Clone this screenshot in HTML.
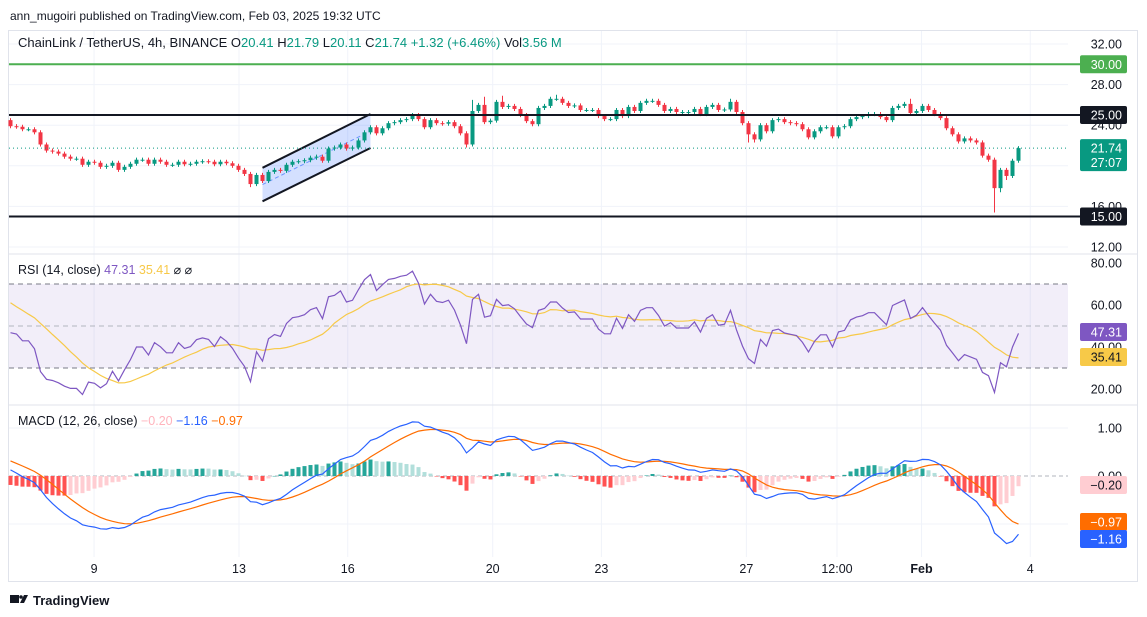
<!DOCTYPE html>
<html><head><meta charset="utf-8">
<style>
html,body{margin:0;padding:0;background:#fff;}
svg{display:block;font-family:"Liberation Sans",sans-serif;}
</style></head>
<body>
<svg id="c" width="1147" height="617" viewBox="0 0 1147 617">
<text x="10" y="20" font-size="12" fill="#131722">ann_mugoiri published on TradingView.com, Feb 03, 2025 19:32 UTC</text>
<rect x="8.5" y="30.5" width="1129" height="551" fill="none" stroke="#e0e3eb"/>
<g id="grid"></g>
<g id="main"></g>
<g id="rsi"></g>
<g id="macd"></g>
<g id="axis"></g>
<text x="18" y="47" font-size="13" fill="#131722">ChainLink / TetherUS, 4h, BINANCE <tspan fill="#131722">O</tspan><tspan fill="#089981">20.41 </tspan><tspan fill="#131722">H</tspan><tspan fill="#089981">21.79 </tspan><tspan fill="#131722">L</tspan><tspan fill="#089981">20.11 </tspan><tspan fill="#131722">C</tspan><tspan fill="#089981">21.74 +1.32 (+6.46%) </tspan><tspan fill="#131722">Vol</tspan><tspan fill="#089981">3.56 M</tspan></text>
<text x="18" y="274" font-size="12.5" fill="#131722">RSI (14, close) <tspan fill="#7e57c2">47.31</tspan> <tspan fill="#f7c948">35.41</tspan> ⌀ ⌀</text>
<text x="18" y="425" font-size="12.5" fill="#131722">MACD (12, 26, close) <tspan fill="#ffb3bd">−0.20</tspan> <tspan fill="#2962ff">−1.16</tspan> <tspan fill="#ff6d00">−0.97</tspan></text>
<g>
<rect x="10" y="595" width="9" height="8" fill="#131722"/>
<path d="M20 603 L24 595 L28 595 L24 603 Z" fill="#131722"/>
<circle cx="21" cy="597" r="1.8" fill="#131722"/>
<text x="33" y="605" font-size="13" font-weight="bold" fill="#131722">TradingView</text>
</g>
</svg>
<script>
const preCloses=[22.0,22.3,22.8,23.0,23.5,23.4,23.9,24.2,24.0,24.6,24.9,24.7,25.2,25.0,25.4,25.1,25.5,25.2,25.4,25.0,25.3,24.9,25.1,24.8,25.0,24.7,24.8,24.6,24.7,24.8,24.5,24.6];
const firstOpen=24.5;
const closes=[23.9,23.85,23.6,23.6,23.3,22.1,21.5,21.4,21.2,20.9,20.7,20.7,20.1,20.4,20.3,19.9,20.0,20.3,19.6,19.9,
20.2,20.6,20.6,20.2,20.6,20.4,20.1,20.1,20.4,20.15,20.2,20.4,20.45,20.4,20.15,20.4,20.25,20.0,19.6,19.2,
18.2,19.1,18.5,19.4,19.6,19.5,20.1,20.4,20.45,20.55,20.8,20.9,20.5,21.7,21.8,22.1,21.7,21.8,22.5,23.3,
23.8,23.2,23.7,24.2,24.3,24.5,24.6,25.0,24.6,23.8,24.5,24.2,24.15,24.3,23.9,23.2,22.1,25.4,26.0,24.3,
24.45,26.3,25.8,25.9,25.6,25.0,24.4,24.1,25.7,25.9,26.6,26.6,26.2,25.9,25.95,25.5,25.5,25.5,24.9,24.6,
24.6,25.5,24.9,25.8,25.4,26.2,26.4,26.4,26.0,25.4,25.6,25.3,25.3,25.3,25.6,25.1,25.8,26.0,25.5,25.55,
26.3,25.3,24.2,23.1,22.6,24.0,23.4,24.5,24.6,24.3,24.2,24.1,23.6,22.8,23.4,23.8,23.8,22.9,23.8,23.9,
24.6,24.8,24.9,25.1,25.1,24.8,24.5,25.7,25.9,26.1,25.2,25.4,25.9,25.5,25.1,24.7,23.7,23.1,22.4,22.7,
22.5,22.3,21.0,20.6,17.8,19.6,19.0,20.5,21.74];
const lowOverrides={40:17.9,76:21.8,164:15.4,165:17.4,166:18.6,123:22.3,124:22.3};
const highOverrides={77:26.5,79:26.8,82:26.9,120:26.6,150:26.6,91:27.0};
const wickPad=0.2;
const priceTicks=[32,28,24,16,12];
const rsiTicks=[80,60,40,20];
const macdTicks=[1.00,0.00];
const dayLabels=["9","13","16","20","23","27","12:00","Feb","4"];
const dayIndex=[13.8,37.8,55.8,79.8,97.8,121.8,136.8,150.8,168.8];
const hLevels=[30,25,15];
const hColors=["#4caf50","#131722","#131722"];
const channelIdx=[42,60];
const channelLower=[16.5,21.75];
const channelUpper=[19.8,25.1];

const NS="http://www.w3.org/2000/svg";
function el(tag,attrs,parent,txt){const e=document.createElementNS(NS,tag);for(const k in attrs)e.setAttribute(k,attrs[k]);if(txt!==undefined)e.textContent=txt;parent.appendChild(e);return e;}
const X=i=>10.5+i*6.0;
const XT=i=>10.7+i*6.04;
const PY=p=>44+(32-p)*10.15;
const RY=v=>284+(70-v)*2.1;
const MY=v=>476-v*48;
const PLOT_R=1068;
const grid=document.getElementById('grid'),main=document.getElementById('main'),rsiG=document.getElementById('rsi'),macdG=document.getElementById('macd'),axis=document.getElementById('axis');

dayLabels.forEach((t,k)=>{
  const x=XT(dayIndex[k]);
  const g=el('line',{x1:x,x2:x,y1:31,y2:557,stroke:'#f0f3fa'},grid);
  
  
  const tx=el('text',{x:x,y:573,'font-size':12.5,'text-anchor':'middle',fill:'#131722','font-weight':t==='Feb'?'bold':'normal'},axis,t);
  
  
});
[254,405].forEach(y=>{const s=el('line',{x1:9,x2:1137,y1:y,y2:y,stroke:'#e0e3eb'},grid);

});
priceTicks.concat([20]).forEach(p=>{const l=el('line',{x1:9,x2:PLOT_R,y1:PY(p),y2:PY(p),stroke:'#f0f3fa'},grid);

});
priceTicks.forEach(p=>{const t=el('text',{x:1122,y:PY(p)+4.5,'font-size':12.5,'text-anchor':'end',fill:'#131722'},axis,p.toFixed(2));

});

const cp=`${X(channelIdx[0])},${PY(channelLower[0])} ${X(channelIdx[1])},${PY(channelLower[1])} ${X(channelIdx[1])},${PY(channelUpper[1])} ${X(channelIdx[0])},${PY(channelUpper[0])}`;
const ch=el('polygon',{points:cp,fill:'rgba(41,98,255,0.2)'},main);


[channelLower,channelUpper].forEach(a=>{const l=el('line',{x1:X(channelIdx[0]),y1:PY(a[0]),x2:X(channelIdx[1]),y2:PY(a[1]),stroke:'#131722','stroke-width':2},main);

});
const mid=el('line',{x1:X(channelIdx[0]),y1:PY((channelLower[0]+channelUpper[0])/2),x2:X(channelIdx[1]),y2:PY((channelLower[1]+channelUpper[1])/2),stroke:'#2962ff','stroke-width':1,'stroke-dasharray':'4 3',opacity:0.6},main);



closes.forEach((c,i)=>{
  const o=i===0?firstOpen:closes[i-1];
  const up=c>=o;const col=up?'#089981':'#f23645';
  const hi=highOverrides[i]!==undefined?highOverrides[i]:Math.max(o,c)+wickPad;
  const lo=lowOverrides[i]!==undefined?lowOverrides[i]:Math.min(o,c)-wickPad;
  const x=X(i);
  const w=el('line',{x1:x,x2:x,y1:PY(hi),y2:PY(lo),stroke:col,'stroke-width':1},main);
  
  
  const top=PY(Math.max(o,c)),h=Math.max(1,PY(Math.min(o,c))-top);
  const b=el('rect',{x:x-2,y:top,width:4,height:h,fill:col},main);
  
  
});
const lastP=closes[closes.length-1];
const dl=el('line',{x1:9,x2:PLOT_R,y1:PY(lastP),y2:PY(lastP),stroke:'#089981','stroke-dasharray':'1 3'},main);


hLevels.forEach((p,k)=>{
  const l=el('line',{x1:9,x2:PLOT_R+12,y1:PY(p),y2:PY(p),stroke:hColors[k],'stroke-width':2},main);
  
  
  const r=el('rect',{x:1080,y:PY(p)-9,width:47,height:18,rx:2,fill:hColors[k]},axis);
  
  
  const t=el('text',{x:1122,y:PY(p)+4.5,'font-size':12.5,'text-anchor':'end',fill:'#fff'},axis,p.toFixed(2));
  
  
});
const pl=el('rect',{x:1080,y:PY(lastP)-9,width:47,height:32,rx:2,fill:'#089981'},axis);


const plt=el('text',{x:1122,y:PY(lastP)+4.5,'font-size':12.5,'text-anchor':'end',fill:'#fff'},axis,lastP.toFixed(2));


const cd=el('text',{x:1122,y:PY(lastP)+19,'font-size':12.5,'text-anchor':'end',fill:'#fff'},axis,'27:07');



const all=preCloses.concat([firstOpen]).concat(closes);
const N=closes.length,off=all.length-N;
const rsi=new Array(all.length).fill(null);
let ag=0,al=0;
for(let i=1;i<all.length;i++){const d=all[i]-all[i-1];const g=Math.max(d,0),l=Math.max(-d,0);
 if(i<=14){ag+=g/14;al+=l/14;}else{ag=(ag*13+g)/14;al=(al*13+l)/14;}
 if(i>=14)rsi[i]=al===0?100:100-100/(1+ag/al);}
const rsiMa=rsi.map((v,i)=>{if(i<27)return null;let s=0;for(let k=i-13;k<=i;k++)s+=rsi[k];return s/14;});
const band=el('rect',{x:9,y:RY(70),width:PLOT_R-9,height:RY(30)-RY(70),fill:'rgba(126,87,194,0.1)'},rsiG);


[70,50,30].forEach(v=>{const l=el('line',{x1:9,x2:PLOT_R,y1:RY(v),y2:RY(v),stroke:v===50?'#b2b5be':'#787b86','stroke-dasharray':'5 4'},rsiG);

});
rsiTicks.forEach(v=>{const t=el('text',{x:1122,y:RY(v)+4.5,'font-size':12.5,'text-anchor':'end',fill:'#131722'},axis,v.toFixed(2));

});
function path(arr,fy){let d='';for(let i=0;i<N;i++){const v=arr[i+off];if(v==null)continue;d+=(d?'L':'M')+X(i).toFixed(1)+','+fy(v).toFixed(1);}return d;}
const rm=el('path',{d:path(rsiMa,RY),fill:'none',stroke:'#f7c948','stroke-width':1.2},rsiG);


const rl=el('path',{d:path(rsi,RY),fill:'none',stroke:'#7e57c2','stroke-width':1.2},rsiG);


[['#7e57c2','47.31'],['#f7c948','35.41']].forEach((a,k)=>{
  const y=k===0?332:357;
  const r=el('rect',{x:1080,y:y-9,width:47,height:18,rx:2,fill:a[0]},axis);
  
  
  const t=el('text',{x:1122,y:y+4.5,'font-size':12.5,'text-anchor':'end',fill:k===0?'#fff':'#131722'},axis,a[1]);
  
  
});
function ema(a,n){const k=2/(n+1);const o=[];a.forEach((v,i)=>o.push(i===0?v:v*k+o[i-1]*(1-k)));return o;}
const e12=ema(all,12),e26=ema(all,26);
const macd=all.map((v,i)=>e12[i]-e26[i]);
const sig=ema(macd,9);
const hist=macd.map((v,i)=>v-sig[i]);
const zl=el('line',{x1:9,x2:PLOT_R,y1:MY(0),y2:MY(0),stroke:'#b2b5be','stroke-dasharray':'4 3'},macdG);


const g1=el('line',{x1:9,x2:PLOT_R,y1:MY(1),y2:MY(1),stroke:'#f0f3fa'},grid);


const g2=el('line',{x1:9,x2:PLOT_R,y1:MY(-1),y2:MY(-1),stroke:'#f0f3fa'},grid);


macdTicks.forEach(v=>{const t=el('text',{x:1122,y:MY(v)+4.5,'font-size':12.5,'text-anchor':'end',fill:'#131722'},axis,v.toFixed(2));

});
for(let i=0;i<N;i++){const h=hist[i+off],p=hist[i+off-1];
  const col=h>=0?(h>=p?'#26a69a':'#b2dfdb'):(h<p?'#ff5252':'#ffcdd2');
  const y1=MY(Math.max(h,0)),y2=MY(Math.min(h,0));
  const r=el('rect',{x:X(i)-2,y:y1,width:4,height:Math.max(0.5,y2-y1),fill:col},macdG);
  
  }
const sl=el('path',{d:path(sig,MY),fill:'none',stroke:'#ff6d00','stroke-width':1.2},macdG);


const ml=el('path',{d:path(macd,MY),fill:'none',stroke:'#2962ff','stroke-width':1.2},macdG);


[[485,'#ffcdd2','#131722','−0.20'],[522,'#ff6d00','#fff','−0.97'],[539,'#2962ff','#fff','−1.16']].forEach(a=>{
  const r=el('rect',{x:1080,y:a[0]-9,width:47,height:18,rx:2,fill:a[1]},axis);
  
  
  const t=el('text',{x:1122,y:a[0]+4.5,'font-size':12.5,'text-anchor':'end',fill:a[2]},axis,a[3]);
  
  
});
</script>
</body></html>
